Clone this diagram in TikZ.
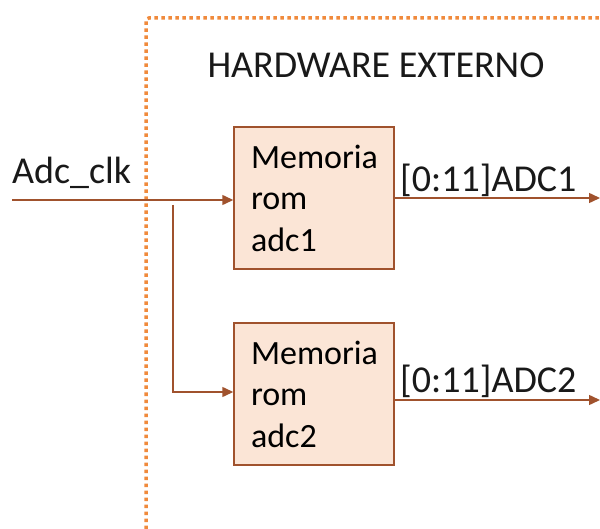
\documentclass[tikz,border=0pt]{standalone}
\usepackage{fontspec}
\setmainfont{Carlito}
\usetikzlibrary{arrows.meta}
\definecolor{wire}{HTML}{A0522D}
\definecolor{boxfill}{HTML}{FBE5D6}
\definecolor{frameorange}{HTML}{F08A3C}
\tikzset{
  membox/.style={draw=wire, line width=1.5pt, fill=boxfill, minimum width=160pt,
    minimum height=142pt, text width=126pt, align=left, inner xsep=17pt,
    font=\fontsize{34}{41.5}\selectfont},
  sig/.style={draw=wire, line width=1.5pt, -{Triangle[length=11pt,width=10pt]}},
  lbl/.style={font=\fontsize{38}{44}\selectfont, inner sep=0pt, text=black!90}
}
\begin{document}
\begin{tikzpicture}[x=1pt,y=-1pt]
  \useasboundingbox (0,0) rectangle (600,529);
  % dotted frame of the external hardware block
  \draw[frameorange, line width=3.5pt, dash pattern=on 3.5pt off 3.5pt, rounded corners=3pt]
    (146,529) -- (146,18) -- (600,18);
  \node[lbl, anchor=base] (title) at (376,78) {HARDWARE EXTERNO};

  % ROM blocks
  \node[membox] (rom1) at (314,198) {Memoria\\rom\\adc1};
  \node[membox] (rom2) at (314,394) {Memoria\\rom\\adc2};

  % clock input and branch
  \coordinate (clkin) at (12,200);
  \coordinate (tap) at (173,205);
  \coordinate (turn) at (173,392);
  \node[lbl, anchor=base west] (clklbl) at (12,184) {Adc\_clk};
  \draw[sig] (clkin) -- (clkin -| rom1.west);
  \draw[sig] (tap) -- (turn) -- (turn -| rom2.west);

  % data outputs
  \coordinate (out1) at (600,198);
  \coordinate (out2) at (600,400);
  \draw[sig] (rom1.east |- out1) -- (out1);
  \draw[sig] (rom2.east |- out2) -- (out2);
  \node[lbl, anchor=base west] (adc1lbl) at (400,192) {[0:11]ADC1};
  \node[lbl, anchor=base west] (adc2lbl) at (400,392) {[0:11]ADC2};
\end{tikzpicture}
\end{document}
